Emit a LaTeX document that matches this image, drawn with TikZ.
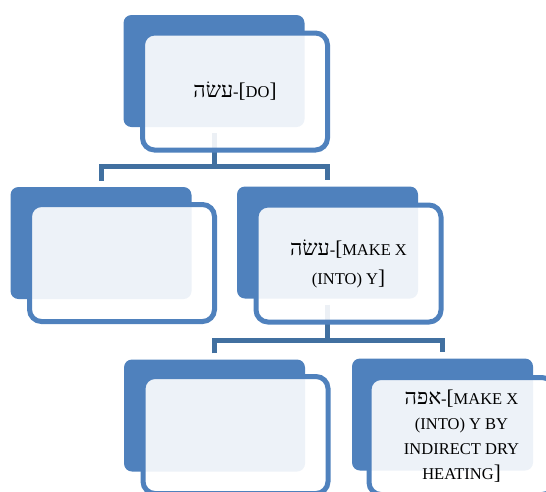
\documentclass[tikz,border=0pt]{standalone}
\usepackage{fontspec}
\setmainfont{Liberation Serif}
\newfontfamily\hebfont[Script=Hebrew]{Liberation Serif}
\TeXXeTstate=1
\newcommand{\hebw}[1]{{\hebfont\fontsize{21.5}{21.5}\selectfont\beginR #1\endR}}
\newcommand{\bigbr}[1]{{\fontsize{21}{21}\selectfont #1}}
\definecolor{accblue}{HTML}{4F81BD}
\definecolor{connblue}{HTML}{4170A0}
\tikzset{
  backbox/.style={fill=accblue, draw=none, rounded corners=8pt, minimum width=181pt, minimum height=112pt, inner sep=0pt},
  frontbox/.style={fill=white, fill opacity=0.9, text opacity=1, draw=accblue, draw opacity=1, line width=5pt, rounded corners=12pt, minimum width=185pt, minimum height=117pt, inner sep=0pt, align=center, text=black},
  conn/.style={draw=connblue, line width=5pt, shorten <=6pt},
  connboth/.style={draw=connblue, line width=5pt, shorten <=6pt, shorten >=6pt}
}
\begin{document}
\begin{tikzpicture}[x=1pt,y=-1pt]
\path[use as bounding box, clip] (0,0) rectangle (546,491);
% back boxes
\node[backbox] (tb) at (214,71) {};
\node[backbox] (c1b) at (101,243) {};
\node[backbox] (c2b) at (327.5,242.5) {};
\node[backbox] (g1b) at (214.5,415.5) {};
\node[backbox] (g2b) at (442.5,414.5) {};
% junctions
\coordinate (j1) at (214,166.5);
\coordinate (j2) at (327.5,340);
% connectors
\draw[conn] (tb.south) -- (j1);
\draw[connboth] (c1b.north) |- (j1) -| (c2b.north);
\draw[conn] (c2b.south) -- (j2);
\draw[connboth] (g1b.north) |- (j2) -| (g2b.north);
% front boxes
\node[frontbox, font=\fontsize{16.5}{29}\selectfont] (tf) at (235,91.5) {\hebw{עשׂה}-\bigbr{[}DO\bigbr{]}};
\node[frontbox] (c1f) at (122,263) {};
\node[frontbox, font=\fontsize{16.5}{29}\selectfont] (c2f) at (348.5,263.5) {\hebw{עשׂה}-\bigbr{[}MAKE X\\(INTO) Y\bigbr{]}};
\node[frontbox] (g1f) at (235.5,435) {};
\node[frontbox, font=\fontsize{16.5}{25}\selectfont] (g2f) at (461.5,436) {\hebw{אפה}-\bigbr{[}MAKE X\\(INTO) Y BY\\INDIRECT DRY\\HEATING\bigbr{]}};
\end{tikzpicture}
\end{document}
